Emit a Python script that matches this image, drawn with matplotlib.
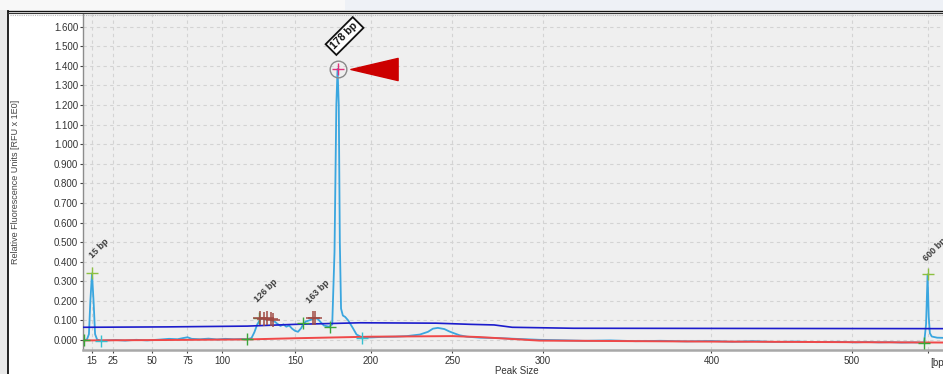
import numpy as np
import matplotlib
matplotlib.use("Agg")
import matplotlib.pyplot as plt
import matplotlib.transforms as mtransforms
from matplotlib.path import Path
from matplotlib.patches import Rectangle
from matplotlib.lines import Line2D

plt.rcParams['font.family'] = ['Liberation Sans', 'DejaVu Sans']

# ---------------- data ----------------
# sizing-ladder calibration of the x axis (bp -> display position)
ladder_bp = [0, 15, 25, 50, 75, 100, 150, 200, 250, 300, 400, 500, 600, 800]
ladder_pos = [61.3, 92, 112.5, 152, 187.5, 222.5, 295, 371, 452.5, 543, 711.5, 852, 928, 1080]

x_ticks = [15, 25, 50, 75, 100, 150, 200, 250, 300, 400, 500, 600]
x_tick_labels = ['15', '25', '50', '75', '100', '150', '200', '250', '300', '400', '500', '']
y_ticks = [0.0, 0.1, 0.2, 0.3, 0.4, 0.5, 0.6, 0.7, 0.8, 0.9, 1.0, 1.1, 1.2, 1.3, 1.4, 1.5, 1.6]

signal_bp = [11, 12.5, 13.5, 14.2, 15, 15.8, 16.5, 17.5, 19.5, 22, 27, 33, 40, 47, 55,
             62, 68, 72, 75, 78, 84, 90, 96, 102, 108, 113, 117, 120, 122, 124, 126,
             128, 130, 132, 134, 136, 138, 140, 142, 144, 146, 148, 150, 152, 154,
             155.5, 157, 160, 163, 165, 167, 169, 172.5, 174.5, 176, 177.2, 178,
             178.8, 179.5, 180.3, 181.5, 183, 185, 188, 190.5, 194, 200, 207, 215,
             222, 230, 235, 238, 241, 245, 248, 251, 254, 258, 265, 275, 285, 298,
             310, 325, 340, 355, 370, 385, 400, 415, 430, 445, 460, 475, 490, 505,
             520, 535, 550, 565, 580, 590, 595, 597.5, 599.5, 601, 602.5, 605, 612, 629]
signal_rfu = [0.0, 0.002, 0.03, 0.2, 0.34, 0.19, 0.03, 0.002, -0.004, -0.002, 0.0, -0.003,
              0.001, -0.002, 0.002, 0.006, 0.004, 0.01, 0.014, 0.006, 0.004, 0.007, 0.003,
              0.006, 0.004, 0.005, 0.004, 0.01, 0.04, 0.08, 0.105, 0.112, 0.104, 0.11, 0.1,
              0.094, 0.082, 0.072, 0.08, 0.068, 0.074, 0.058, 0.047, 0.042, 0.06, 0.082,
              0.094, 0.102, 0.112, 0.108, 0.09, 0.074, 0.068, 0.08, 0.45, 1.2, 1.384,
              1.2, 0.5, 0.16, 0.125, 0.118, 0.1, 0.062, 0.028, 0.014, 0.013, 0.016, 0.017,
              0.02, 0.028, 0.042, 0.058, 0.062, 0.056, 0.044, 0.034, 0.024, 0.017, 0.012,
              0.01, 0.006, 0.001, -0.001, -0.004, -0.002, -0.006, -0.004, -0.007, -0.005,
              -0.009, -0.006, -0.01, -0.008, -0.011, -0.009, -0.012, -0.01, -0.012, -0.011,
              -0.013, -0.012, -0.013, -0.013, 0.08, 0.335, 0.12, 0.035, 0.018, 0.012, 0.01]

threshold_bp = [11, 60, 117, 150, 193, 240, 260, 273, 283, 318, 629]
threshold_rfu = [0.065, 0.067, 0.071, 0.08, 0.088, 0.086, 0.08, 0.077, 0.065, 0.06, 0.058]

baseline_bp = [11, 60, 117, 150, 200, 250, 265, 298, 400, 500, 629]
baseline_rfu = [-0.002, 0.0, 0.003, 0.009, 0.017, 0.02, 0.015, -0.003, -0.008, -0.011, -0.013]

green_bp = [11.2, 117, 125, 155.5, 173, 595]
green_rfu = [0.0, 0.003, 0.11, 0.085, 0.068, -0.013]
top_bp = [15, 599.5]
top_rfu = [0.34, 0.335]
cyan_bp = [19.5, 194]
cyan_rfu = [-0.004, 0.012]
cluster_bp = [126, 128.6, 130.9, 133.2, 135, 161.8, 163]
cluster_rfu = [0.112, 0.108, 0.11, 0.106, 0.104, 0.112, 0.11]
main_bp = 178
main_rfu = 1.384
main_label = '178 bp'

peak_labels = ['15 bp', '126 bp', '163 bp', '600 bp']
peak_label_bp = [15, 126, 163, 599.5]
peak_label_rfu = [0.34, 0.112, 0.11, 0.335]

# ---------------- figure ----------------
W, H = 943, 374
fig = plt.figure(figsize=(W / 100, H / 100), dpi=100)
fig.patch.set_facecolor('white')


def fx(x):
    return x / W


def fy(y):
    return 1 - y / H


# window decoration
fig.add_artist(Rectangle((0, fy(10)), 1, 10 / H, transform=fig.transFigure,
                         facecolor='#f8f8f8', edgecolor='none', zorder=-5))
fig.add_artist(Rectangle((fx(345), fy(10)), 1, 10 / H, transform=fig.transFigure,
                         facecolor='#eef1f6', edgecolor='none', zorder=-4))
fig.add_artist(Rectangle((0, 0), fx(8), fy(10), transform=fig.transFigure,
                         facecolor='#e9e9e9', edgecolor='none', zorder=-4))
fig.add_artist(Line2D([fx(8), fx(8)], [0, fy(10.5)], transform=fig.transFigure,
                      color='#111111', lw=1.3, zorder=5))
fig.add_artist(Line2D([fx(8), 1], [fy(10.5), fy(10.5)], transform=fig.transFigure,
                      color='#111111', lw=1.0, zorder=5))
fig.add_artist(Line2D([fx(8), 1], [fy(12.5), fy(12.5)], transform=fig.transFigure,
                      color='#333333', lw=0.8, zorder=5))
fig.add_artist(Line2D([fx(10), 1], [fy(14.5), fy(14.5)], transform=fig.transFigure,
                      color='#b8b8b8', lw=0.8, ls=(0, (1, 1)), zorder=5))

ax = fig.add_axes([fx(83), 24 / H, 867 / W, 336 / H])
ax.set_facecolor('#efefef')


def fwd(x):
    return np.interp(x, ladder_bp, ladder_pos)


def inv(p):
    return np.interp(p, ladder_pos, ladder_bp)


ax.set_xscale('function', functions=(fwd, inv))
ax.set_xlim(10.6, 629)
ax.set_ylim(-0.051, 1.665)

ax.set_xticks(x_ticks)
ax.set_xticklabels(x_tick_labels)
ax.set_yticks(y_ticks)
ax.set_yticklabels([f'{v:.3f}' for v in y_ticks])
ax.minorticks_off()
ax.tick_params(axis='both', labelsize=7, colors='#444444', labelcolor='#333333',
               length=2.5, width=0.8)
ax.tick_params(axis='y', pad=1)
ax.tick_params(axis='x', pad=2)
ax.grid(True, color='#d3d3d3', lw=0.8, ls=(0, (3, 3)))
ax.set_axisbelow(True)
for s in ['top', 'right']:
    ax.spines[s].set_visible(False)
ax.spines['left'].set_color('#8c8c8c')
ax.spines['left'].set_linewidth(1.0)
ax.spines['bottom'].set_color('#a8a8a8')
ax.spines['bottom'].set_linewidth(1.8)

ax.set_xlabel('Peak Size', fontsize=7, color='#333333', labelpad=0)
ax.set_ylabel('Relative Fluorescence Units [RFU x 1E0]', fontsize=6.5, color='#444444')
ax.yaxis.set_label_coords((20 - 83) / 867, 0.5)
ax.text((938 - 83) / 867, -0.025, '[bp]', transform=ax.transAxes, fontsize=7,
        color='#333333', ha='center', va='top')

# traces
ax.plot(signal_bp, signal_rfu, color='#3aa6df', lw=1.3, zorder=3)
ax.plot(threshold_bp, threshold_rfu, color='#1c1ccc', lw=1.2, zorder=4)
ax.plot(baseline_bp, baseline_rfu, color='#f04848', lw=1.4, zorder=4)

# peak markers
mk = dict(marker='+', ls='none', ms=9, mew=1.0, zorder=6)
ax.plot(green_bp, green_rfu, color='#3aa638', **mk)
ax.plot(top_bp, top_rfu, color='#8cc040', **mk)
ax.plot(cyan_bp, cyan_rfu, color='#35c0d0', **mk)
ax.plot(cluster_bp, cluster_rfu, color='#a04a44', marker='+', ls='none', ms=10,
        mew=1.1, zorder=6)
ax.plot([main_bp], [main_rfu], color='#e0307a', **mk)
ax.plot([main_bp], [main_rfu], marker='o', ms=12, mfc='none', mec='#8a8a8a',
        mew=1.0, ls='none', zorder=6)

# labels
offsets = [(7, 25), (6, 27), (3, 27), (7, 25)]
for lbl, bx, by, (dx, dy) in zip(peak_labels, peak_label_bp, peak_label_rfu, offsets):
    ax.annotate(lbl, (bx, by), xytext=(dx * 0.72, dy * 0.72), textcoords='offset points',
                rotation=45, ha='center', va='center', fontsize=6.5,
                fontweight='bold', color='#3a3a3a', zorder=7, annotation_clip=False)

ax.annotate(main_label, (main_bp, main_rfu), xytext=(7 * 0.72, 33 * 0.72),
            textcoords='offset points', rotation=45, ha='center', va='center',
            fontsize=7.5, fontweight='bold', color='#111111', zorder=8,
            bbox=dict(boxstyle='square,pad=0.25', facecolor='white',
                      edgecolor='#111111', lw=1.3))

# red arrow pointing at the main peak
tri = Path([(-1, 0), (1, 0.47), (1, -0.47), (-1, 0)],
           [Path.MOVETO, Path.LINETO, Path.LINETO, Path.CLOSEPOLY])
trans = mtransforms.offset_copy(ax.transData, fig=fig, x=36, y=0, units='dots')
ax.plot([main_bp], [main_rfu], marker=tri, ms=34, color='#cc0000', mec='#cc0000',
        ls='none', transform=trans, zorder=8, clip_on=False)

fig.savefig('out.png', dpi=100)
